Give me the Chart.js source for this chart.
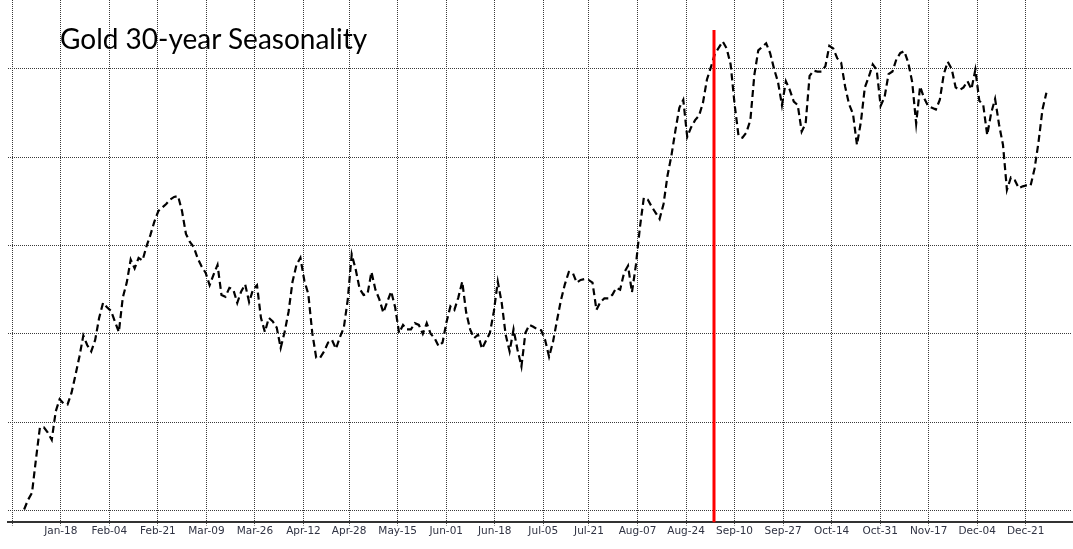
<!doctype html>
<html lang="en">
  <head>
    <title>Gold 30-year Seasonality</title>
    <script src="https://cdn.jsdelivr.net/npm/chart.js"></script>
    <style>
      body { margin: 0; background: #fff; }
      #wrap { position: relative; width: 1073px; height: 549px; }
      #chartTitle {
        position: absolute;
        left: 60px;
        top: 21px;
        font-family: Lato, sans-serif;
        font-size: 28px;
        color: #000;
        white-space: nowrap;
      }
    </style>
  </head>
  <body>
    <div id="wrap">
      <canvas id="seasonChart"></canvas>
      <div id="chartTitle">Gold 30-year Seasonality</div>
    </div>

    <script>
      // x = day of the year (Jan 1 = 0, leap-year calendar), y = average cumulative return in %
      // the seasonal series has 264 evenly spaced samples per year, the first one drawn is sample 3
      const samplesPerYear = 264;
      const daysPerYear = 365;
      const firstSample = 3;
      const seasonality = [
        0.01, 0.12, 0.20, 0.58, 0.94, 0.94, 0.88, 0.80, 1.12, 1.26, 1.21, 1.20,
        1.33, 1.53, 1.74, 1.98, 1.87, 1.80, 1.93, 2.18, 2.35, 2.30, 2.26, 2.14,
        2.02, 2.41, 2.58, 2.84, 2.74, 2.86, 2.83, 2.99, 3.12, 3.27, 3.39, 3.43,
        3.47, 3.52, 3.55, 3.56, 3.39, 3.13, 3.04, 2.98, 2.85, 2.76, 2.69, 2.55,
        2.67, 2.78, 2.44, 2.42, 2.52, 2.50, 2.35, 2.48, 2.56, 2.36, 2.50, 2.55,
        2.18, 2.02, 2.18, 2.14, 2.07, 1.84, 2.02, 2.25, 2.59, 2.78, 2.86, 2.60,
        2.45, 2.01, 1.73, 1.73, 1.80, 1.90, 1.93, 1.83, 1.96, 2.07, 2.39, 2.90,
        2.73, 2.51, 2.44, 2.45, 2.70, 2.50, 2.39, 2.24, 2.36, 2.48, 2.30, 2.01,
        2.10, 2.05, 2.05, 2.12, 2.10, 2.00, 2.12, 2.00, 1.95, 1.86, 1.90, 2.13,
        2.31, 2.27, 2.41, 2.59, 2.24, 2.05, 1.95, 1.99, 1.83, 1.92, 2.01, 2.25,
        2.59, 2.35, 1.99, 1.80, 2.05, 1.82, 1.63, 2.01, 2.10, 2.08, 2.05, 2.04,
        1.93, 1.74, 1.91, 2.15, 2.38, 2.56, 2.70, 2.69, 2.58, 2.61, 2.62, 2.61,
        2.58, 2.27, 2.36, 2.40, 2.40, 2.44, 2.52, 2.50, 2.69, 2.77, 2.47, 2.78,
        3.20, 3.54, 3.52, 3.44, 3.37, 3.30, 3.47, 3.79, 4.02, 4.30, 4.56, 4.65,
        4.23, 4.34, 4.42, 4.47, 4.62, 4.88, 5.02, 5.17, 5.24, 5.31, 5.23, 5.05,
        4.60, 4.24, 4.22, 4.28, 4.42, 4.93, 5.21, 5.25, 5.29, 5.18, 5.00, 4.85,
        4.59, 4.86, 4.76, 4.63, 4.59, 4.29, 4.38, 4.92, 4.98, 4.97, 4.97, 5.03,
        5.26, 5.23, 5.12, 5.07, 4.80, 4.60, 4.49, 4.14, 4.40, 4.79, 4.91, 5.05,
        4.99, 4.58, 4.68, 4.94, 4.97, 5.11, 5.18, 5.20, 5.07, 4.85, 4.38, 4.80,
        4.67, 4.58, 4.56, 4.54, 4.65, 4.94, 5.08, 5.00, 4.79, 4.76, 4.79, 4.86,
        4.77, 4.99, 4.64, 4.59, 4.25, 4.50, 4.66, 4.37, 4.14, 3.63, 3.77, 3.74,
        3.65, 3.67, 3.68, 3.68, 3.87, 4.17, 4.54, 4.73
      ];

      const tickDays = [0, 17, 34, 51, 68, 85, 102, 118, 135, 152, 169, 186, 202,
                        219, 236, 253, 270, 287, 304, 321, 338, 355];
      const tickLabels = ['', 'Jan-18', 'Feb-04', 'Feb-21', 'Mar-09', 'Mar-26', 'Apr-12',
                          'Apr-28', 'May-15', 'Jun-01', 'Jun-18', 'Jul-05', 'Jul-21',
                          'Aug-07', 'Aug-24', 'Sep-10', 'Sep-27', 'Oct-14', 'Oct-31',
                          'Nov-17', 'Dec-04', 'Dec-21'];
      const yGrid = [0, 1, 2, 3, 4, 5];

      // today's marker
      const markerDay = 245.8;
      const markerTop = 5.44;

      const xMin = -1.5, xMax = 371.2;
      const yMin = -0.136, yMax = 5.78;

      const seasonPoints = seasonality.map((v, i) => ({
        x: (firstSample + i) * daysPerYear / samplesPerYear,
        y: v
      }));

      const ctx = document.getElementById('seasonChart').getContext('2d');
      const chart = new Chart(ctx, {
        type: 'line',
        data: {
          datasets: [{
            label: 'Today',
            data: [{ x: markerDay, y: yMin }, { x: markerDay, y: markerTop }],
            borderColor: '#ff0000',
            borderWidth: 3,
            pointRadius: 0,
            order: 0
          }, {
            label: 'Gold 30-year Seasonality',
            data: seasonPoints,
            borderColor: '#000000',
            borderWidth: 2.2,
            borderDash: [7, 4],
            pointRadius: 0,
            tension: 0,
            order: 1
          }]
        },
        options: {
          responsive: true,
          maintainAspectRatio: false,
          animation: false,
          layout: { padding: { left: 8, right: 1, top: 0, bottom: 11 } },
          plugins: {
            legend: { display: false },
            tooltip: { enabled: false }
          },
          scales: {
            x: {
              type: 'linear',
              min: xMin,
              max: xMax,
              afterBuildTicks: axis => { axis.ticks = tickDays.map(v => ({ value: v })); },
              ticks: {
                autoSkip: false,
                maxRotation: 0,
                padding: 0,
                color: '#2f3242',
                font: { family: 'DejaVu Sans', size: 10.5 },
                callback: v => tickLabels[tickDays.indexOf(v)]
              },
              grid: { color: '#3a3a3a', lineWidth: 1, tickLength: 3, tickBorderDash: [1, 1] },
              border: { display: true, color: '#333333', width: 2, dash: [1, 1] }
            },
            y: {
              min: yMin,
              max: yMax,
              afterBuildTicks: axis => { axis.ticks = yGrid.map(v => ({ value: v })); },
              ticks: { display: false },
              grid: { color: '#3a3a3a', lineWidth: 1, drawTicks: false },
              border: { display: false, dash: [1, 1] }
            }
          }
        }
      });
    </script>
  </body>
</html>
